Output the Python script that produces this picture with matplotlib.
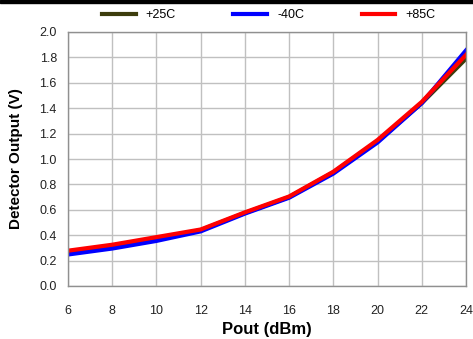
import matplotlib
matplotlib.use("Agg")
import matplotlib.pyplot as plt
from matplotlib.patches import Rectangle

pout = [6, 8, 10, 12, 14, 16, 18, 20, 22, 24]
v_25 = [0.265, 0.31, 0.37, 0.44, 0.575, 0.70, 0.895, 1.14, 1.44, 1.79]
v_m40 = [0.248, 0.295, 0.355, 0.43, 0.57, 0.695, 0.885, 1.13, 1.44, 1.855]
v_85 = [0.278, 0.325, 0.385, 0.445, 0.58, 0.705, 0.90, 1.15, 1.45, 1.82]
series_labels = ["+25C", "-40C", "+85C"]
xticks = [6, 8, 10, 12, 14, 16, 18, 20, 22, 24]
yticks = [0.0, 0.2, 0.4, 0.6, 0.8, 1.0, 1.2, 1.4, 1.6, 1.8, 2.0]

plt.rcParams['font.family'] = ['Liberation Sans', 'DejaVu Sans']

fig = plt.figure(figsize=(4.73, 3.39), dpi=100)
ax = fig.add_axes([68/473, 1-286/339, (466-68)/473, (286-32)/339])

l1, = ax.plot(pout, v_25, color='#3c3c0c', lw=3, label=series_labels[0], solid_joinstyle='round')
l2, = ax.plot(pout, v_m40, color='#0000ff', lw=3, label=series_labels[1], solid_joinstyle='round')
l3, = ax.plot(pout, v_85, color='#ff0000', lw=3, label=series_labels[2], solid_joinstyle='round')

ax.set_xlim(6, 24)
ax.set_ylim(0, 2.0)
ax.set_xticks(xticks)
ax.set_yticks(yticks)
ax.set_yticklabels([f"{t:.1f}" for t in yticks])
ax.grid(True, color='#c0c0c0', lw=1)
ax.set_axisbelow(True)
for s in ax.spines.values():
    s.set_color('#909090')
    s.set_linewidth(1)
ax.tick_params(length=0, labelsize=9, colors='#222222')
ax.tick_params(axis='x', pad=14)
ax.tick_params(axis='y', pad=8)
ax.set_xlabel("Pout (dBm)", fontsize=12, fontweight='bold', labelpad=3)
ax.set_ylabel("Detector Output (V)", fontsize=11, fontweight='bold', labelpad=12)

fig.legend(handles=[l1, l2, l3], loc='center', bbox_to_anchor=(0.568, 1-15/339), ncol=3,
           frameon=False, fontsize=9, handlelength=2.7, handletextpad=0.8, columnspacing=4.6)

fig.patches.append(Rectangle((0, 1-3/339), 1, 3/339, transform=fig.transFigure, color='black', zorder=10))

fig.savefig("out.png", dpi=100)
